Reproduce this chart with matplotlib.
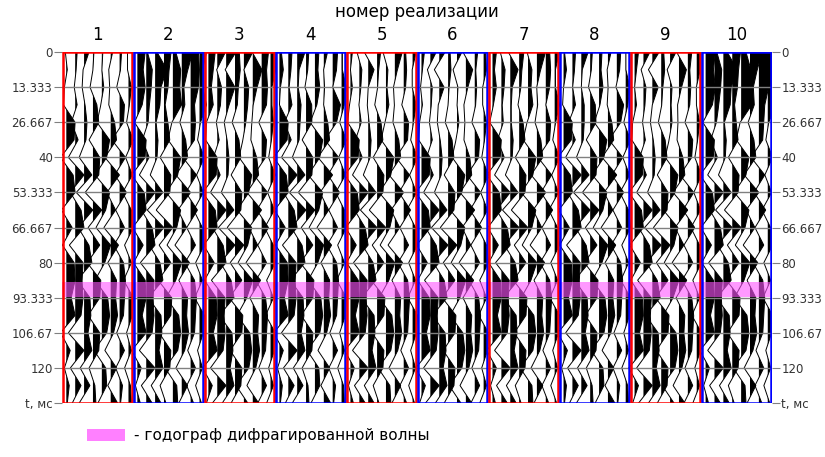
import numpy as np
import matplotlib
matplotlib.use('Agg')
import matplotlib.pyplot as plt

# --- данные ---
realizations = [str(i) for i in range(1, 11)]
frame_colors = ['red', 'blue'] * 5
tick_values = [0, 13.333, 26.667, 40, 53.333, 66.667, 80, 93.333, 106.67, 120]
tick_labels = ['0', '13.333', '26.667', '40', '53.333', '66.667', '80', '93.333', '106.67', '120']
t_max = 133.33
band_t = (87.5, 93.0)   # годограф дифрагированной волны

# узлы по времени (шаг 6.667 мс) и амплитуды 8 трасс (оценка по рисунку)
node_t = [0, 6.67, 13.33, 20, 26.67, 33.33, 40, 46.67, 53.33, 60, 66.67,
          73.33, 80, 86.67, 93.33, 100, 106.67, 113.33, 120, 126.67, 133.33]
trace_a = [-0.1, 0.1, -0.2, -0.3, 0.9, 0.8, -0.6, 0.7, 0.9, -0.5, 0.6, -0.4, 0.8, 0.9, 0.5, 0.9, -0.6, 0.4, -0.2, 0.3, 0.1]
trace_b = [0.1, -0.1, 0.2, -0.4, 0.3, -0.7, 0.9, -0.5, 0.6, 0.9, -0.6, 0.8, 0.7, 0.8, 0.6, -0.7, 0.9, -0.5, 0.6, -0.3, 0.2]
trace_c = [-0.2, 0.1, 0.3, 0.2, -0.5, 0.8, -0.8, 0.9, -0.6, 0.5, 0.8, -0.7, 0.6, 0.7, 0.4, 0.8, -0.4, 0.6, -0.5, 0.5, -0.1]
trace_d = [0.1, 0.0, -0.3, 0.4, 0.6, -0.4, 0.7, 0.6, -0.8, 0.9, -0.5, 0.7, -0.6, 0.8, 0.7, -0.5, 0.7, 0.6, -0.4, 0.2, 0.3]
trace_e = [0.0, 0.2, -0.1, -0.5, 0.8, 0.5, -0.7, 0.8, 0.4, -0.6, 0.9, 0.3, -0.7, 0.6, 0.8, 0.5, -0.8, 0.4, 0.5, -0.4, 0.1]
trace_f = [-0.1, -0.2, 0.4, 0.6, -0.6, 0.9, -0.4, 0.5, -0.7, 0.8, -0.3, 0.6, 0.5, 0.7, 0.3, -0.6, 0.6, -0.3, 0.7, 0.2, -0.2]
trace_g = [0.2, 0.1, -0.3, 0.5, 0.4, -0.8, 0.6, -0.5, 0.7, -0.4, 0.5, -0.6, 0.4, 0.6, 0.5, 0.4, -0.3, 0.5, -0.4, 0.3, 0.1]
trace_h = [-0.1, 0.3, 0.1, -0.2, 0.5, -0.3, 0.4, -0.6, 0.3, 0.5, -0.4, 0.3, -0.5, 0.5, 0.4, -0.2, 0.3, -0.4, 0.2, 0.3, -0.1]
traces = [trace_a, trace_b, trace_c, trace_d, trace_e, trace_f, trace_g, trace_h]
# сдвиг (в узлах) и раннее смещение для каждой реализации
panel_shift = [0, 1, 2, 0, 1, 2, 1, 0, 2, 1]
early_bias = [0.0, 0.7, 0.4, 0.3, 0.1, 0.0, 0.3, 0.2, 0.1, 0.9]

fig = plt.figure(figsize=(8.25, 4.57), dpi=100)
ax = fig.add_axes([0.075, 0.118, 0.861, 0.768])

tt = np.linspace(0, t_max, 700)
n_tr = len(traces)
for p in range(10):
    for k, tr in enumerate(traces):
        a = np.array(tr, dtype=float)
        a = np.roll(a, panel_shift[p] + (k % 3))
        a[:4] += early_bias[p] * (1 if k % 2 == 0 else 0.6)
        amp = np.interp(tt, node_t, a)
        x0 = p * n_tr + k + 0.5
        xs = x0 + amp * 1.1
        ax.fill_betweenx(tt, x0, xs, where=xs > x0, color='black', lw=0, interpolate=True)
        ax.plot(xs, tt, color='black', lw=0.7)
    ax.add_patch(plt.Rectangle((p * n_tr + 0.1, 0), n_tr - 0.2, t_max, fill=False,
                               edgecolor=frame_colors[p], lw=1.8, zorder=5))
    ax.text(p * n_tr + n_tr / 2, -3, realizations[p], ha='center', va='bottom', fontsize=12)

for tv in tick_values[1:]:
    ax.axhline(tv, color='#808080', lw=1.0, zorder=4)
ax.axhspan(band_t[0], band_t[1], color='#ff55ff', alpha=0.6, lw=0, zorder=3)

ax.set_xlim(0, 10 * n_tr)
ax.set_ylim(t_max, 0)
ax.set_xticks([])
ax.set_yticks(tick_values + [t_max])
ax.set_yticklabels(tick_labels + ['t, мс'], fontsize=8.5, color='#333333')
ax.tick_params(axis='y', left=True, right=True, labelleft=True, labelright=True,
               length=6, color='#808080', pad=0.5)
for s in ax.spines.values():
    s.set_visible(False)
ax.text(40, -12, 'номер реализации', ha='center', va='bottom', fontsize=12)

# легенда
fig.patches.append(plt.Rectangle((0.105, 0.034), 0.047, 0.028, transform=fig.transFigure,
                                 color='#ff80ff', lw=0))
fig.text(0.162, 0.048, '- годограф дифрагированной волны', fontsize=11, va='center')

plt.savefig('out.png', dpi=100)
